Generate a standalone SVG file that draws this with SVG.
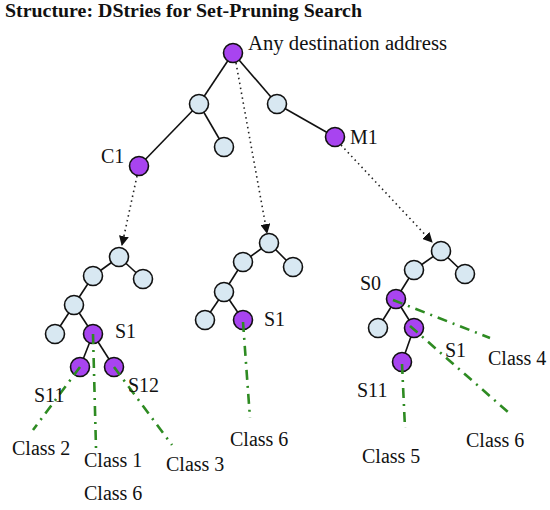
<svg xmlns="http://www.w3.org/2000/svg" width="550" height="510" viewBox="0 0 550 510">
<defs>
<style>
.t{font-family:"Liberation Serif","DejaVu Serif",serif;font-size:20px;fill:#111}
.title{font-family:"Liberation Serif","DejaVu Serif",serif;font-size:18px;font-weight:bold;fill:#111}
.e{stroke:#111;stroke-width:1.6;fill:none}
.d{stroke:#222;stroke-width:1.6;stroke-dasharray:1.5 3.5;fill:none}
.g{stroke:#2e8b22;stroke-width:2.6;stroke-dasharray:10 6 2 6;fill:none}
.n{fill:#d8e8f2;stroke:#111;stroke-width:1.6}
.p{fill:#a844f0;stroke:#111;stroke-width:1.6}
</style>
<marker id="ah" markerWidth="10" markerHeight="10" refX="9" refY="5" orient="auto" markerUnits="userSpaceOnUse">
<path d="M0,0 L10,5 L0,10 z" fill="#111"/>
</marker>
</defs>
<rect width="550" height="510" fill="#fff"/>
<text class="title" x="5" y="17" textLength="357" lengthAdjust="spacingAndGlyphs">Structure: DStries for Set-Pruning Search</text>

<g id="connectors">
<line class="e" x1="233" y1="53" x2="199" y2="104"/>
<line class="e" x1="233" y1="53" x2="277" y2="104"/>
<line class="e" x1="199" y1="104" x2="139" y2="166"/>
<line class="e" x1="199" y1="104" x2="224" y2="147"/>
<line class="e" x1="277" y1="104" x2="335" y2="137"/>
<line class="d" x1="137" y1="176" x2="122" y2="245" marker-end="url(#ah)"/>
<line class="d" x1="236" y1="63" x2="267" y2="233" marker-end="url(#ah)"/>
<line class="d" x1="341" y1="145" x2="432" y2="242" marker-end="url(#ah)"/>
<line class="e" x1="119" y1="257" x2="93" y2="276"/>
<line class="e" x1="119" y1="257" x2="143" y2="279"/>
<line class="e" x1="93" y1="276" x2="74" y2="305"/>
<line class="e" x1="74" y1="305" x2="55" y2="334"/>
<line class="e" x1="74" y1="305" x2="93" y2="334"/>
<line class="e" x1="93" y1="334" x2="80" y2="367"/>
<line class="e" x1="93" y1="334" x2="114" y2="367"/>
<line class="e" x1="269" y1="243" x2="243" y2="262"/>
<line class="e" x1="269" y1="243" x2="293" y2="267"/>
<line class="e" x1="243" y1="262" x2="224" y2="292"/>
<line class="e" x1="224" y1="292" x2="205" y2="320"/>
<line class="e" x1="224" y1="292" x2="243" y2="320"/>
<line class="e" x1="441" y1="251" x2="414" y2="270"/>
<line class="e" x1="441" y1="251" x2="465" y2="274"/>
<line class="e" x1="414" y1="270" x2="396" y2="299"/>
<line class="e" x1="396" y1="299" x2="378" y2="328"/>
<line class="e" x1="396" y1="299" x2="414" y2="328"/>
<line class="e" x1="414" y1="328" x2="402" y2="362"/>
</g>

<g id="nodes">
<g id="root"><circle class="p" cx="233" cy="53" r="9.5"/></g>
<g id="a1"><circle class="n" cx="199" cy="104" r="9.5"/></g>
<g id="a2"><circle class="n" cx="277" cy="104" r="9.5"/></g>
<g id="a3"><circle class="n" cx="224" cy="147" r="9.5"/></g>
<g id="C1"><circle class="p" cx="139" cy="166" r="9.5"/></g>
<g id="M1"><circle class="p" cx="335" cy="137" r="9.5"/></g>
<g id="l1"><circle class="n" cx="119" cy="257" r="9.5"/></g>
<g id="l2"><circle class="n" cx="93" cy="276" r="9.5"/></g>
<g id="l3"><circle class="n" cx="143" cy="279" r="9.5"/></g>
<g id="l4"><circle class="n" cx="74" cy="305" r="9.5"/></g>
<g id="l5"><circle class="n" cx="55" cy="334" r="9.5"/></g>
<g id="lS1"><circle class="p" cx="93" cy="334" r="9.5"/></g>
<g id="lS11"><circle class="p" cx="80" cy="367" r="9.5"/></g>
<g id="lS12"><circle class="p" cx="114" cy="367" r="9.5"/></g>
<g id="m1"><circle class="n" cx="269" cy="243" r="9.5"/></g>
<g id="m2"><circle class="n" cx="243" cy="262" r="9.5"/></g>
<g id="m3"><circle class="n" cx="293" cy="267" r="9.5"/></g>
<g id="m4"><circle class="n" cx="224" cy="292" r="9.5"/></g>
<g id="m5"><circle class="n" cx="205" cy="320" r="9.5"/></g>
<g id="mS1"><circle class="p" cx="243" cy="320" r="9.5"/></g>
<g id="r1"><circle class="n" cx="441" cy="251" r="9.5"/></g>
<g id="r2"><circle class="n" cx="414" cy="270" r="9.5"/></g>
<g id="r3"><circle class="n" cx="465" cy="274" r="9.5"/></g>
<g id="rS0"><circle class="p" cx="396" cy="299" r="9.5"/></g>
<g id="r4"><circle class="n" cx="378" cy="328" r="9.5"/></g>
<g id="rS1"><circle class="p" cx="414" cy="328" r="9.5"/></g>
<g id="rS11"><circle class="p" cx="402" cy="362" r="9.5"/></g>
</g>

<g id="classlinks">
<line class="g" x1="80" y1="367" x2="33" y2="430"/>
<line class="g" x1="93" y1="334" x2="96" y2="448"/>
<line class="g" x1="114" y1="367" x2="172" y2="445"/>
<line class="g" x1="243" y1="322" x2="250" y2="418"/>
<line class="g" x1="393" y1="300" x2="490" y2="338"/>
<line class="g" x1="410" y1="326" x2="508" y2="412"/>
<line class="g" x1="402" y1="364" x2="405" y2="428"/>
</g>

<g id="labels">
<text class="t" x="248" y="50" textLength="199" lengthAdjust="spacingAndGlyphs">Any destination address</text>
<text class="t" x="101" y="163">C1</text>
<text class="t" x="350" y="144">M1</text>
<text class="t" x="115" y="338">S1</text>
<text class="t" x="34" y="402">S11</text>
<text class="t" x="128" y="392">S12</text>
<text class="t" x="12" y="455">Class 2</text>
<text class="t" x="84" y="467">Class 1</text>
<text class="t" x="84" y="500">Class 6</text>
<text class="t" x="166" y="471">Class 3</text>
<text class="t" x="264" y="326">S1</text>
<text class="t" x="230" y="446">Class 6</text>
<text class="t" x="360" y="290">S0</text>
<text class="t" x="445" y="357">S1</text>
<text class="t" x="488" y="365">Class 4</text>
<text class="t" x="357" y="397">S11</text>
<text class="t" x="466" y="447">Class 6</text>
<text class="t" x="362" y="463">Class 5</text>
</g>
</svg>
